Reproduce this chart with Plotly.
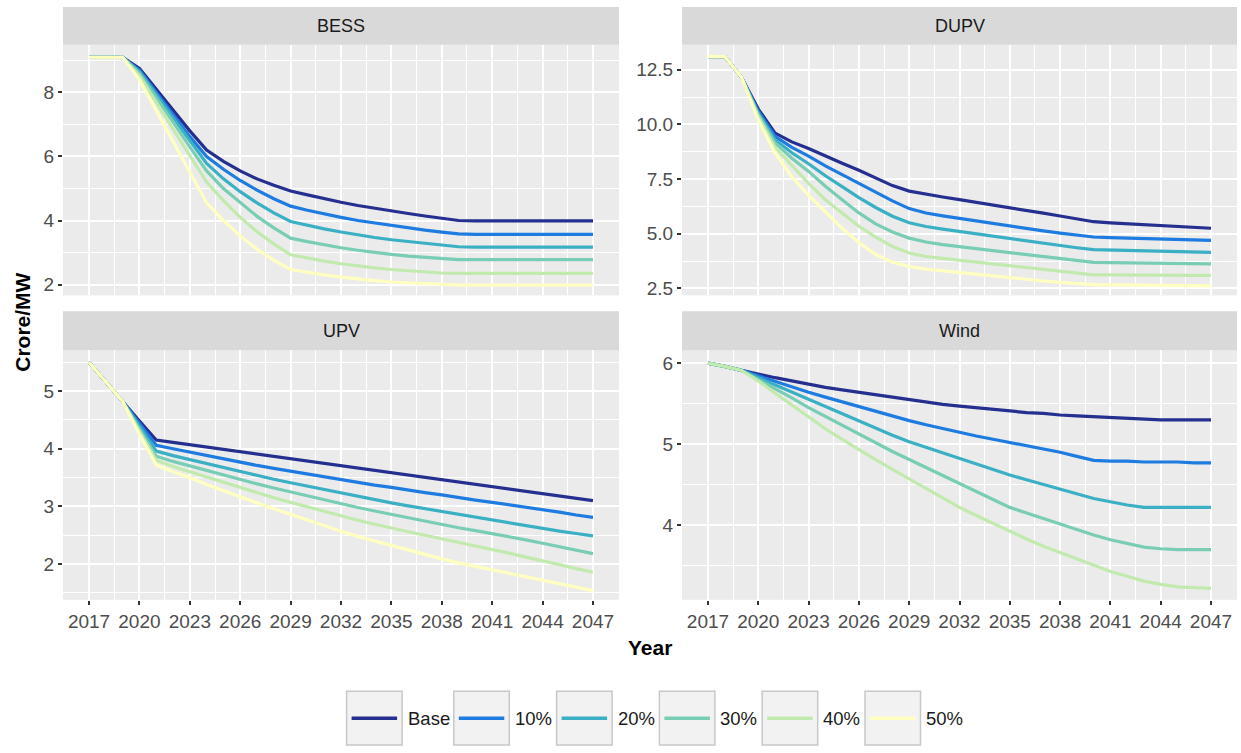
import plotly.graph_objects as go

# ---------------- data ----------------
years = list(range(2017, 2048))
series_names = ["Base", "10%", "20%", "30%", "40%", "50%"]
series_colors = ["#252F8F", "#1E7BE0", "#3BAFC4", "#79CDB5", "#C2EAAE", "#FFFFC2"]
x_ticks = [2017, 2020, 2023, 2026, 2029, 2032, 2035, 2038, 2041, 2044, 2047]
panel_names = ["BESS", "DUPV", "UPV", "Wind"]

# BESS
bess_base = [9.1, 9.1, 9.1,
             8.75, 8.1, 7.45, 6.8, 6.2, 5.85, 5.55, 5.3, 5.1, 4.92,
             4.8, 4.68, 4.57, 4.47, 4.38, 4.3, 4.22, 4.14, 4.07, 4.0,
             3.99, 3.99, 3.99, 3.99, 3.99, 3.99, 3.99, 3.99]
bess_10 = [9.1, 9.1, 9.1,
           8.7, 8.0, 7.3, 6.62, 6.0, 5.6, 5.25, 4.95, 4.68, 4.45,
           4.32, 4.2, 4.1, 4.0, 3.92, 3.84, 3.77, 3.7, 3.64, 3.58,
           3.57, 3.57, 3.57, 3.57, 3.57, 3.57, 3.57, 3.57]
bess_20 = [9.1, 9.1, 9.1,
           8.65, 7.93, 7.2, 6.48, 5.78, 5.3, 4.9, 4.55, 4.24, 3.97,
           3.85, 3.74, 3.64, 3.55, 3.47, 3.4, 3.34, 3.28, 3.23, 3.18,
           3.17, 3.17, 3.17, 3.17, 3.17, 3.17, 3.17, 3.17]
bess_30 = [9.1, 9.1, 9.1,
           8.6, 7.85, 7.08, 6.3, 5.55, 5.0, 4.55, 4.13, 3.77, 3.45,
           3.34, 3.24, 3.15, 3.07, 3.0, 2.94, 2.89, 2.85, 2.81, 2.78,
           2.78, 2.78, 2.78, 2.78, 2.78, 2.78, 2.78, 2.78]
bess_40 = [9.1, 9.1, 9.1,
           8.52, 7.7, 6.88, 6.03, 5.2, 4.62, 4.1, 3.65, 3.27, 2.93,
           2.82, 2.73, 2.65, 2.58, 2.52, 2.47, 2.43, 2.39, 2.36, 2.35,
           2.35, 2.35, 2.35, 2.35, 2.35, 2.35, 2.35, 2.35]
bess_50 = [9.1, 9.1, 9.1,
           8.4, 7.45, 6.5, 5.52, 4.55, 4.0, 3.52, 3.1, 2.76, 2.47,
           2.38, 2.3, 2.23, 2.17, 2.12, 2.08, 2.05, 2.02, 2.0, 1.98,
           1.98, 1.98, 1.98, 1.98, 1.98, 1.98, 1.98, 1.98]

# DUPV
dupv_base = [13.1, 13.1, 12.15,
             10.7, 9.6, 9.2, 8.9, 8.55, 8.22, 7.9, 7.55, 7.2, 6.95,
             6.8, 6.68, 6.56, 6.44, 6.33, 6.2, 6.07, 5.94, 5.81, 5.68,
             5.55, 5.5, 5.46, 5.42, 5.38, 5.33, 5.29, 5.25]
dupv_10 = [13.1, 13.1, 12.15,
           10.6, 9.45, 8.95, 8.55, 8.1, 7.7, 7.3, 6.9, 6.5, 6.15,
           5.95, 5.82, 5.7, 5.58, 5.47, 5.36, 5.24, 5.13, 5.03, 4.94,
           4.85, 4.82, 4.8, 4.78, 4.76, 4.74, 4.72, 4.7]
dupv_20 = [13.1, 13.1, 12.15,
           10.5, 9.3, 8.7, 8.2, 7.65, 7.15, 6.65, 6.2, 5.8, 5.5,
           5.33, 5.21, 5.1, 4.99, 4.88, 4.77, 4.66, 4.56, 4.46, 4.36,
           4.27, 4.25, 4.23, 4.21, 4.19, 4.18, 4.16, 4.15]
dupv_30 = [13.1, 13.1, 12.15,
           10.45, 9.15, 8.45, 7.85, 7.17, 6.55, 5.95, 5.45, 5.08, 4.8,
           4.62, 4.5, 4.41, 4.32, 4.23, 4.14, 4.05, 3.96, 3.87, 3.78,
           3.69, 3.68, 3.67, 3.66, 3.65, 3.64, 3.63, 3.62]
dupv_40 = [13.1, 13.1, 12.15,
           10.35, 8.95, 8.1, 7.3, 6.55, 5.95, 5.34, 4.85, 4.42, 4.12,
           3.96, 3.87, 3.79, 3.71, 3.62, 3.53, 3.45, 3.37, 3.28, 3.2,
           3.12, 3.12, 3.11, 3.11, 3.1, 3.1, 3.1, 3.1]
dupv_50 = [13.1, 13.1, 12.15,
           10.2, 8.7, 7.6, 6.75, 6.0, 5.25, 4.6, 4.05, 3.7, 3.5,
           3.38, 3.3, 3.22, 3.14, 3.06, 2.98, 2.91, 2.84, 2.78, 2.72,
           2.67, 2.66, 2.65, 2.64, 2.63, 2.63, 2.62, 2.62]

# UPV
upv_base = [5.5, 5.15, 4.82,
            4.48, 4.15, 4.11, 4.07, 4.03, 3.99, 3.95, 3.9, 3.86, 3.82,
            3.78, 3.74, 3.7, 3.66, 3.62, 3.58, 3.54, 3.5, 3.46, 3.42,
            3.38, 3.34, 3.3, 3.26, 3.22, 3.18, 3.14, 3.1]
upv_10 = [5.5, 5.15, 4.82,
          4.44, 4.06, 4.0, 3.94, 3.88, 3.82, 3.77, 3.71, 3.66, 3.61,
          3.56, 3.51, 3.46, 3.42, 3.37, 3.33, 3.28, 3.24, 3.2, 3.15,
          3.11, 3.07, 3.03, 2.98, 2.94, 2.9, 2.85, 2.81]
upv_20 = [5.5, 5.15, 4.82,
          4.39, 3.96, 3.88, 3.81, 3.74, 3.67, 3.6, 3.54, 3.47, 3.41,
          3.35, 3.29, 3.23, 3.17, 3.12, 3.06, 3.01, 2.96, 2.91, 2.86,
          2.82, 2.77, 2.72, 2.67, 2.62, 2.57, 2.53, 2.49]
upv_30 = [5.5, 5.15, 4.82,
          4.34, 3.87, 3.78, 3.7, 3.62, 3.54, 3.46, 3.39, 3.32, 3.25,
          3.18, 3.11, 3.04, 2.98, 2.92, 2.86, 2.8, 2.74, 2.68, 2.63,
          2.58, 2.53, 2.47, 2.42, 2.36, 2.3, 2.24, 2.18]
upv_40 = [5.5, 5.15, 4.82,
          4.3, 3.8, 3.69, 3.6, 3.5, 3.41, 3.32, 3.23, 3.15, 3.07,
          2.99, 2.91, 2.83, 2.76, 2.69, 2.62, 2.56, 2.5, 2.44, 2.38,
          2.32, 2.26, 2.19, 2.12, 2.06, 1.99, 1.92, 1.86]
upv_50 = [5.5, 5.15, 4.82,
          4.25, 3.72, 3.6, 3.5, 3.38, 3.27, 3.16, 3.06, 2.96, 2.86,
          2.76, 2.66, 2.57, 2.48, 2.4, 2.32, 2.24, 2.16, 2.09, 2.02,
          1.96, 1.9, 1.84, 1.78, 1.72, 1.66, 1.6, 1.54]

# Wind (no 50% series)
wind_base = [6.0, 5.96, 5.91,
             5.86, 5.82, 5.78, 5.74, 5.7, 5.67, 5.64, 5.61, 5.58, 5.55,
             5.52, 5.49, 5.47, 5.45, 5.43, 5.41, 5.39, 5.38, 5.36, 5.35,
             5.34, 5.33, 5.32, 5.31, 5.3, 5.3, 5.3, 5.3]
wind_10 = [6.0, 5.96, 5.91,
           5.84, 5.77, 5.7, 5.64, 5.58, 5.52, 5.46, 5.4, 5.34, 5.29,
           5.24, 5.19, 5.14, 5.1, 5.06, 5.02, 4.98, 4.94, 4.9, 4.85,
           4.8, 4.79, 4.79, 4.78, 4.78, 4.78, 4.77, 4.77]
wind_20 = [6.0, 5.96, 5.91,
           5.82, 5.73, 5.64, 5.55, 5.46, 5.37, 5.28, 5.2, 5.11, 5.03,
           4.96, 4.89, 4.82, 4.75, 4.69, 4.62, 4.56, 4.5, 4.44, 4.38,
           4.33, 4.29, 4.25, 4.22, 4.22, 4.22, 4.22, 4.22]
wind_30 = [6.0, 5.96, 5.91,
           5.8, 5.69, 5.57, 5.45, 5.34, 5.23, 5.12, 5.01, 4.91, 4.81,
           4.71, 4.61, 4.51, 4.41, 4.31, 4.22, 4.15, 4.08, 4.01, 3.95,
           3.88, 3.82, 3.77, 3.73, 3.71, 3.7, 3.7, 3.7]
wind_40 = [6.0, 5.96, 5.91,
           5.78, 5.63, 5.48, 5.33, 5.19, 5.06, 4.93, 4.81, 4.69, 4.57,
           4.45, 4.33, 4.22, 4.12, 4.02, 3.92, 3.83, 3.74, 3.66, 3.58,
           3.5, 3.43, 3.37, 3.31, 3.27, 3.24, 3.23, 3.22]
wind_50 = None

panel_series = {
    "BESS": [bess_base, bess_10, bess_20, bess_30, bess_40, bess_50],
    "DUPV": [dupv_base, dupv_10, dupv_20, dupv_30, dupv_40, dupv_50],
    "UPV": [upv_base, upv_10, upv_20, upv_30, upv_40, upv_50],
    "Wind": [wind_base, wind_10, wind_20, wind_30, wind_40, wind_50],
}

# ---------------- layout (pixel geometry) ----------------
W, H = 1241, 753
FONT = "Liberation Sans, Arial, Helvetica, sans-serif"


def fx(p):
    return p / W


def fy(p):
    return 1 - p / H


geom = {
    "BESS": dict(ax="", x0=63, x1=619, y0=45, y1=297, st=7, yr=[1.66, 9.49], dt=2, mdt=1, bottom=False),
    "DUPV": dict(ax="2", x0=682, x1=1237, y0=45, y1=297, st=7, yr=[2.18, 13.64], dt=2.5, mdt=1.25, bottom=False),
    "UPV": dict(ax="3", x0=63, x1=619, y0=352, y1=603, st=313, yr=[1.38, 5.71], dt=1, mdt=0.5, bottom=True),
    "Wind": dict(ax="4", x0=682, x1=1237, y0=352, y1=603, st=313, yr=[3.08, 6.16], dt=1, mdt=0.5, bottom=True),
}

fig = go.Figure()
shapes = []
annotations = []
layout_axes = {}

for pname in panel_names:
    g = geom[pname]
    xa = "x" + g["ax"]
    ya = "y" + g["ax"]
    for name, color, vals in zip(series_names, series_colors, panel_series[pname]):
        if vals is None:
            continue
        fig.add_trace(go.Scatter(
            x=years, y=vals, mode="lines", name=name,
            line=dict(color=color, width=3.2),
            xaxis=xa, yaxis=ya, showlegend=False,
            hoverinfo="x+y+name"))

    tickfont = dict(family=FONT, size=19, color="#4D4D4D")
    layout_axes["xaxis" + g["ax"]] = dict(
        domain=[fx(g["x0"]), fx(g["x1"])], anchor=ya, range=[2015.45, 2048.55],
        tickmode="array", tickvals=x_ticks, ticktext=[str(t) for t in x_ticks],
        showticklabels=g["bottom"], ticks="outside" if g["bottom"] else "",
        ticklen=4, tickwidth=1.5, tickcolor="#333333", tickfont=tickfont,
        showgrid=True, gridcolor="#FFFFFF", gridwidth=1.6, zeroline=False, showline=False,
        minor=dict(tickmode="linear", tick0=2015.5, dtick=1.5, showgrid=True,
                   gridcolor="#FFFFFF", gridwidth=0.7, ticks=""),
    )
    layout_axes["yaxis" + g["ax"]] = dict(
        domain=[fy(g["y1"]), fy(g["y0"])], anchor=xa, range=g["yr"],
        tickmode="linear", tick0=0, dtick=g["dt"],
        tickformat=".1f" if pname == "DUPV" else "d",
        ticks="outside", ticklen=4, tickwidth=1.5, tickcolor="#333333", tickfont=tickfont,
        showgrid=True, gridcolor="#FFFFFF", gridwidth=1.6, zeroline=False, showline=False,
        minor=dict(tickmode="linear", tick0=0, dtick=g["mdt"], showgrid=True,
                   gridcolor="#FFFFFF", gridwidth=0.7, ticks=""),
    )
    # facet strip
    shapes.append(dict(type="rect", xref="paper", yref="paper",
                       x0=fx(g["x0"]), x1=fx(g["x1"]), y0=fy(g["y0"]), y1=fy(g["st"]),
                       fillcolor="#D9D9D9", line=dict(width=0), layer="below"))
    annotations.append(dict(text=pname, xref="paper", yref="paper",
                            x=fx((g["x0"] + g["x1"]) / 2), y=fy((g["st"] + g["y0"]) / 2),
                            xanchor="center", yanchor="middle", showarrow=False,
                            font=dict(family=FONT, size=18, color="#1A1A1A")))

# axis titles
annotations.append(dict(text="Year", xref="paper", yref="paper", x=fx(650), y=fy(651),
                        xanchor="center", yanchor="middle", showarrow=False,
                        font=dict(family=FONT, size=21, color="#000000", weight="bold")))
annotations.append(dict(text="Crore/MW", xref="paper", yref="paper", x=fx(22.5), y=fy(324),
                        xanchor="center", yanchor="middle", showarrow=False, textangle=-90,
                        font=dict(family=FONT, size=21, color="#000000", weight="bold")))

# legend (ggplot-style keys with boxes)
legend_box_x = [346.6, 453.8, 556.6, 659.4, 762.2, 865.0]
box_w, box_top, box_bot, key_y = 55.5, 695, 749, 722
for name, color, bx in zip(series_names, series_colors, legend_box_x):
    shapes.append(dict(type="rect", xref="paper", yref="paper",
                       x0=fx(bx), x1=fx(bx + box_w), y0=fy(box_bot), y1=fy(box_top),
                       fillcolor="#F2F2F2", line=dict(color="#C8C8C8", width=1.5)))
    shapes.append(dict(type="line", xref="paper", yref="paper",
                       x0=fx(bx + 5), x1=fx(bx + box_w - 5), y0=fy(key_y), y1=fy(key_y),
                       line=dict(color=color, width=3.5)))
    annotations.append(dict(text=name, xref="paper", yref="paper",
                            x=fx(bx + box_w + 3.5), y=fy(key_y),
                            xanchor="left", yanchor="middle", showarrow=False,
                            font=dict(family=FONT, size=18.5, color="#1A1A1A")))

fig.update_layout(
    width=W, height=H, autosize=False,
    margin=dict(l=0, r=0, t=0, b=0),
    paper_bgcolor="#FFFFFF", plot_bgcolor="#EBEBEB",
    showlegend=False,
    shapes=shapes, annotations=annotations,
    font=dict(family=FONT),
    **layout_axes,
)

fig.write_html("out.html")
